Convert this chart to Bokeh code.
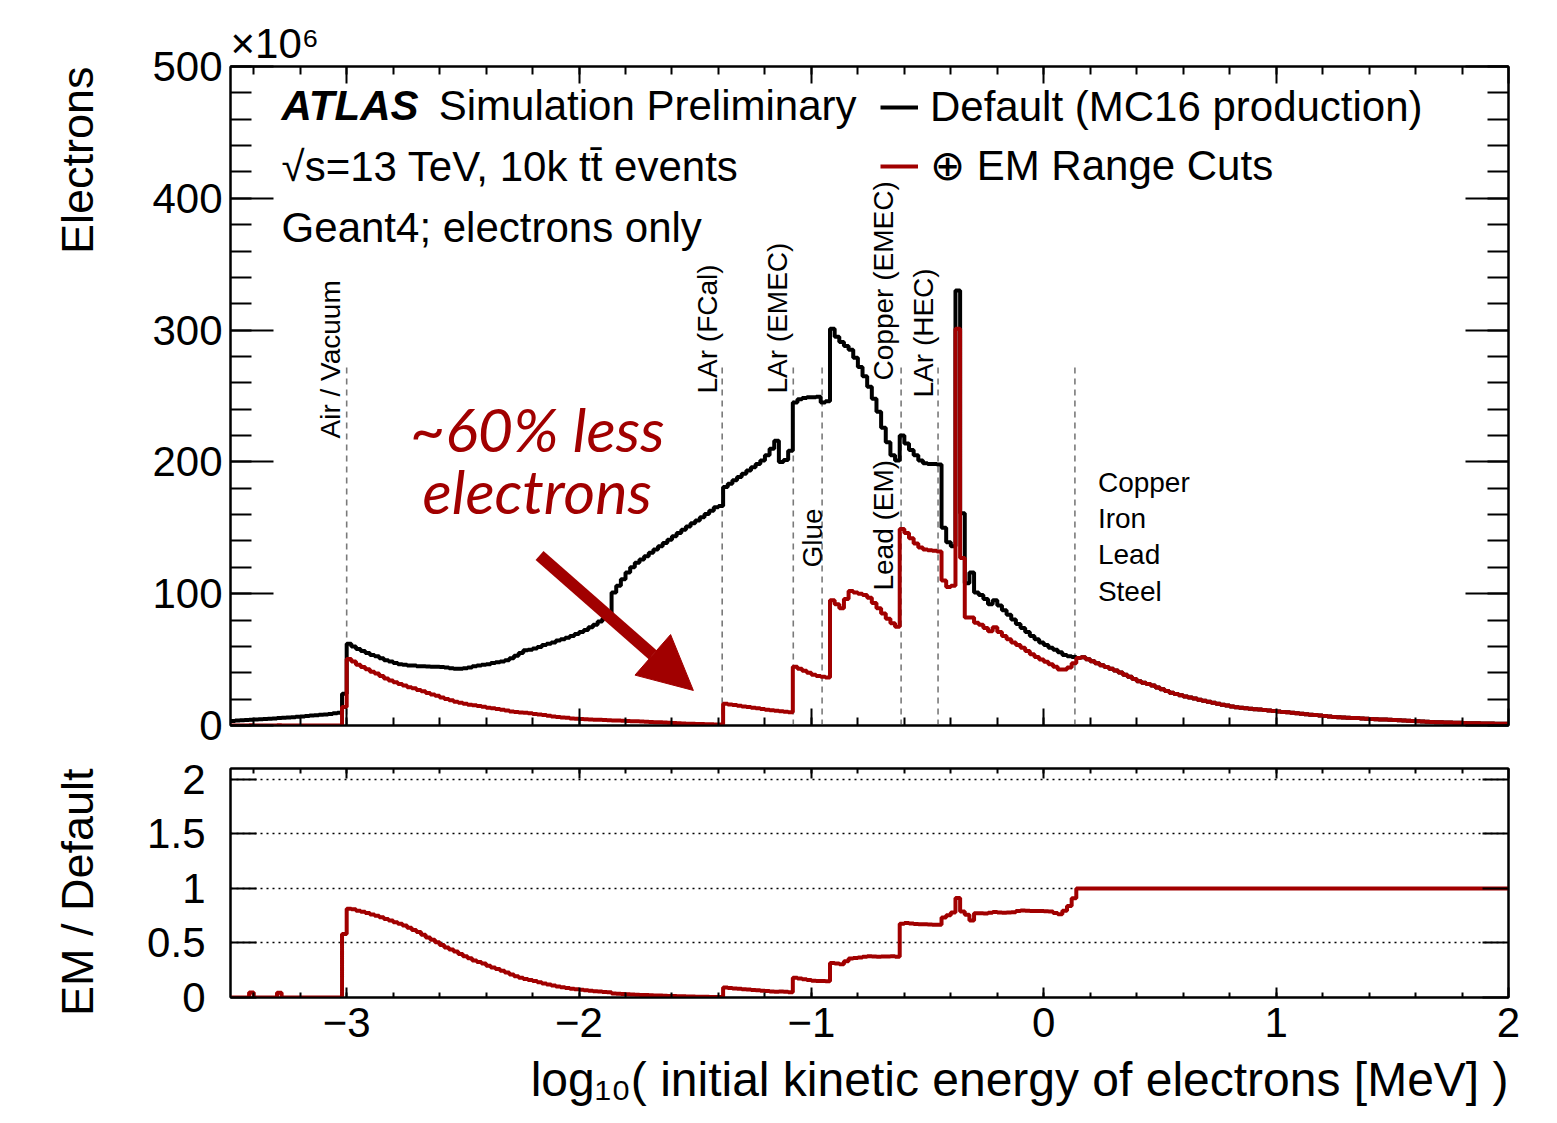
import numpy as np
from bokeh.plotting import figure
from bokeh.layouts import column
from bokeh.models import (FixedTicker, LinearAxis, Label, Arrow, NormalHead,
                          Legend, LegendItem, Range1d, Title)
from bokeh.embed import file_html
from bokeh.resources import INLINE

# ---------------------------------------------------------------------------
# Binning: log10(E_kin / MeV), 0.02 wide bins from -3.5 to 2.0
# ---------------------------------------------------------------------------
X_LO, X_HI, N_BINS = -3.5, 2.0, 275
edges = np.round(np.linspace(X_LO, X_HI, N_BINS + 1), 2)

# Electrons per bin [x10^6], default (MC16 production) physics list
default_vac = [3.5, 3.7, 3.9, 4.1, 4.3, 4.5, 4.7, 4.9, 5.1, 5.3,
               5.6, 5.8, 6.1, 6.3, 6.6, 6.9, 7.2, 7.5, 7.8, 8.1,
               8.4, 8.8, 9.2, 9.6, 24.0]
default_air = [62, 60, 58, 56.5, 55, 53.5, 52.5, 51, 49.5, 48.5,
               47.5, 46.5, 46, 45.5, 45.5, 45, 45, 44.8, 44.5, 44.5,
               44.3, 44, 43.5, 43, 43, 43.5, 44, 45, 45.5, 46,
               46.5, 47.5, 48, 48.5, 49.5, 51, 53, 55, 57, 57.5,
               58.5, 59.5, 61, 62, 63, 64.5, 65.5, 66.5, 68, 69.5,
               71, 72.5, 74.5, 76.5, 79, 81, 82, 101, 106, 111,
               116, 120, 123.5, 126, 128.5, 131, 133.5, 136, 138.5, 141,
               143.5, 146, 148.5, 151, 153.5, 155.5, 158, 160.5, 163, 165.5]
default_emec = [166.5, 181, 183.5, 186, 188.5, 191, 193.5, 196, 198.5, 201,
                205, 210, 216, 200, 201.5, 208.5, 245, 247.5, 248.5, 249,
                249, 249.5, 245]
default_calo = [246, 301, 295, 291, 288, 285, 279, 272, 265, 257,
                248, 238, 226, 215, 205, 201, 220, 214, 209, 205,
                201, 199, 198.5, 198.5, 198]
default_hec = [150, 139, 136, 330, 161, 108, 116, 101, 99, 96,
               92, 95, 91, 87.5, 84, 80.5, 77, 74, 71, 68,
               65.5, 63, 61, 59, 57.5, 55.6, 53.5, 52.5, 52]

# Electrons per bin [x10^6], with EM range cuts
emcut_vac = [0, 0, 0, 0, 0.2, 0, 0, 0, 0, 0,
             0.25, 0, 0, 0, 0, 0, 0, 0, 0, 0,
             0, 0, 0, 0, 14.0]
emcut_air = [50.5, 48.6, 46.1, 44.4, 42.6, 40.7, 39.4, 37.5, 35.6, 34.2,
             32.8, 31.4, 30.4, 29.1, 28.2, 27.0, 25.9, 24.6, 23.6, 22.5,
             21.3, 20.2, 19.1, 18.1, 17.2, 16.5, 15.8, 15.3, 14.8, 14.3,
             13.5, 13.1, 12.5, 11.9, 11.4, 10.7, 10.3, 9.9, 9.7, 9.2,
             8.8, 8.3, 7.9, 7.4, 6.9, 6.5, 6.1, 5.8, 5.4, 5.2,
             5.0, 4.8, 4.6, 4.4, 4.3, 4.1, 3.9, 3.8, 3.7, 3.6,
             3.5, 3.3, 3.2, 3.0, 2.9, 2.7, 2.5, 2.4, 2.2, 2.0,
             1.9, 1.7, 1.6, 1.4, 1.3, 1.2, 1.1, 1.0, 0.9, 0.8]
emcut_emec = [0.7, 16.5, 16, 15.5, 15, 14.5, 14, 13.5, 13, 12.5,
              12, 11.6, 11.2, 10.8, 10.4, 10, 44.5, 43, 41.5, 40,
              38.5, 37.5, 37]
emcut_calo = [36.5, 95, 92, 89, 96, 102, 101, 100, 99, 97,
              93, 89, 85, 81, 77.5, 75, 149, 146, 142, 138,
              135, 133.5, 133, 132.5, 132]
emcut_hec = [110, 105, 106, 301, 127, 82, 82, 78, 76.5, 74,
             71.5, 74.5, 71, 68, 65.5, 63, 61, 59, 56.5, 54,
             52, 50, 48.3, 46.5, 44.5, 42.5, 42.5, 44, 47.3]

# Above ~0.14 the range cuts no longer act: both setups agree
common_tail = [51.3, 51.8, 50.3, 48.8, 47.2, 45.8, 44.4, 43.0, 41.7, 40.3,
               38.6, 37.0, 35.3, 33.6, 32.5, 31.4, 30.3, 28.9, 27.5, 26.1,
               24.9, 23.9, 22.9, 22.0, 21.2, 20.4, 19.5, 18.8, 18.0, 17.3,
               16.5, 15.8, 15.1, 14.4, 13.9, 13.5, 13.1, 12.7, 12.4, 12.1,
               11.7, 11.4, 11.0, 10.7, 10.3, 10.0, 9.6, 9.3, 8.9, 8.6,
               8.2, 7.9, 7.6, 7.2, 6.9, 6.5, 6.3, 6.1, 5.9, 5.7,
               5.6, 5.4, 5.2, 5.0, 4.8, 4.6, 4.5, 4.3, 4.1, 3.9,
               3.8, 3.6, 3.4, 3.2, 3.1, 2.9, 2.7, 2.5, 2.4, 2.3,
               2.2, 2.1, 2.0, 1.9, 1.8, 1.7, 1.7, 1.6, 1.5, 1.5,
               1.4, 1.4, 1.3]

default = np.array(default_vac + default_air + default_emec + default_calo
                   + default_hec + common_tail, dtype=float)
emcut = np.array(emcut_vac + emcut_air + emcut_emec + emcut_calo
                 + emcut_hec + common_tail, dtype=float)
assert len(default) == N_BINS and len(emcut) == N_BINS
ratio = np.divide(emcut, default, out=np.zeros_like(default), where=default > 0)

# Material boundaries (log10 of the electron production threshold)
boundary_x = [-3.0, -1.384, -1.078, -0.954, -0.614, -0.455, 0.134]
boundary_top = 275

# Axis ticks
x_major = [-3, -2, -1, 0, 1, 2]
x_minor = [round(v, 1) for v in np.arange(-3.4, 2.0, 0.2)]
x_labels = {-3: "\u22123", -2: "\u22122", -1: "\u22121", 0: "0", 1: "1", 2: "2"}
y_major = [0, 100, 200, 300, 400, 500]
y_minor = list(range(0, 501, 20))
r_major = [0, 0.5, 1, 1.5, 2]
r_labels = {0: "0", 0.5: "0.5", 1: "1", 1.5: "1.5", 2: "2"}

RED = "#a10000"
FONT = "Liberation Sans"
W = 1557


def add_axis(fig, side, ticker, major_in, minor_in, label_size=None, standoff=6,
             overrides=None):
    ax = LinearAxis(ticker=ticker)
    ax.axis_line_color = "black"
    ax.axis_line_width = 2
    ax.major_tick_in = major_in
    ax.major_tick_out = 0
    ax.minor_tick_in = minor_in
    ax.minor_tick_out = 0
    ax.major_tick_line_width = 2
    ax.minor_tick_line_width = 2
    ax.major_tick_line_color = "black"
    ax.minor_tick_line_color = "black"
    if label_size is None:
        # tick marks only on this side
        ax.major_label_text_color = None
        ax.major_label_text_font_size = "1px"
        ax.major_label_standoff = 0
    else:
        ax.major_label_text_font = FONT
        ax.major_label_text_font_size = label_size
        ax.major_label_text_color = "black"
        ax.major_label_standoff = standoff
    if overrides:
        ax.major_label_overrides = overrides
    fig.add_layout(ax, side)
    return ax


def new_panel(height, y_range, border_top, border_bottom):
    fig = figure(width=W, height=height, x_range=Range1d(X_LO, X_HI), y_range=y_range,
                 output_backend="svg", toolbar_location=None,
                 x_axis_location=None, y_axis_location=None,
                 min_border_left=230, min_border_right=49,
                 min_border_top=border_top, min_border_bottom=border_bottom)
    fig.outline_line_color = "black"
    fig.outline_line_width = 2
    fig.background_fill_color = "white"
    fig.border_fill_color = "white"
    return fig


def txt(fig, x, y, text, size, **kw):
    kw.setdefault("text_font", FONT)
    kw.setdefault("text_color", "black")
    kw.setdefault("text_baseline", "middle")
    fig.add_layout(Label(x=x, y=y, text=text, text_font_size=size, **kw))


def side_title(fig, side, text, size, align, standoff, offset=0):
    fig.add_layout(Title(text=text, align=align, standoff=standoff, offset=offset,
                         text_font=FONT, text_font_size=size,
                         text_font_style="normal", text_color="black"), side)


# ---------------------------------------------------------------------------
# Upper panel: electron spectra
# ---------------------------------------------------------------------------
top = new_panel(750, Range1d(0, 500), 66, 25)
top.grid.visible = False

xt = FixedTicker(ticks=x_major, minor_ticks=x_minor)
yt = FixedTicker(ticks=y_major, minor_ticks=y_minor)
add_axis(top, "below", xt, 17, 8)
add_axis(top, "above", xt, 17, 8)
add_axis(top, "left", yt, 43, 21, label_size="42px", standoff=8)
add_axis(top, "right", yt, 43, 21)

side_title(top, "left", "Electrons", "45px", "right", 94)
side_title(top, "above", "\u00d710\u2076", "42px", "left", 0)

top.segment(x0=boundary_x, y0=[0] * len(boundary_x), x1=boundary_x,
            y1=[boundary_top] * len(boundary_x),
            line_color="#7a7a7a", line_width=1.6, line_dash="6 5")

r_def = top.step(x=edges, y=np.append(default, default[-1]), mode="after",
                 line_color="black", line_width=4)
r_em = top.step(x=edges, y=np.append(emcut, emcut[-1]), mode="after",
                line_color=RED, line_width=4)

legend = Legend(items=[LegendItem(label="Default (MC16 production)", renderers=[r_def]),
                       LegendItem(label="\u2295 EM Range Cuts", renderers=[r_em])],
                location=(650, 535), padding=0, margin=0, spacing=10,
                glyph_width=38, glyph_height=20, label_standoff=12,
                label_text_font=FONT, label_text_font_size="42px",
                label_text_color="black",
                background_fill_alpha=0, border_line_alpha=0)
top.add_layout(legend)

# Header text
txt(top, -3.28, 470.4, "ATLAS", "42px", text_font_style="bold italic")
txt(top, -2.604, 470.4, "Simulation Preliminary", "42px")
txt(top, -3.28, 424.1, "\u221as=13 TeV, 10k t\u0074\u0304 events", "42px")
txt(top, -3.28, 377.8, "Geant4; electrons only", "42px")

# Material labels along the boundaries
ANGLE = np.pi / 2
txt(top, -3.069, 217.8, "Air / Vacuum", "28px", angle=ANGLE)
txt(top, -1.446, 251.9, "LAr (FCal)", "28px", angle=ANGLE)
txt(top, -1.145, 251.9, "LAr (EMEC)", "28px", angle=ANGLE)
txt(top, -0.997, 119.9, "Glue", "28px", angle=ANGLE)
txt(top, -0.689, 102.4, "Lead (EM)", "28px", angle=ANGLE)
txt(top, -0.689, 261.8, "Copper (EMEC)", "28px", angle=ANGLE)
txt(top, -0.517, 248.9, "LAr (HEC)", "28px", angle=ANGLE)
for label, yv in zip(["Copper", "Iron", "Lead", "Steel"], [184.4, 157.1, 129.8, 101.7]):
    txt(top, 0.233, yv, label, "28px")

# Callout
txt(top, -2.18, 225.6, "~60% less", "61px", text_font="Lato",
    text_font_style="italic", text_color=RED, text_align="center")
txt(top, -2.18, 178.6, "electrons", "61px", text_font="Lato",
    text_font_style="italic", text_color=RED, text_align="center")
top.add_layout(Arrow(end=NormalHead(size=54, fill_color=RED, line_color=RED),
                     x_start=-2.17, y_start=129, x_end=-1.508, y_end=26.6,
                     line_color=RED, line_width=12))

# ---------------------------------------------------------------------------
# Lower panel: ratio EM range cuts / default
# ---------------------------------------------------------------------------
bot = new_panel(373, Range1d(0, 2.1), 18, 126)
bot.x_range = top.x_range
bot.xgrid.visible = False
bot.ygrid.ticker = FixedTicker(ticks=[0.5, 1, 1.5, 2])
bot.ygrid.grid_line_color = "black"
bot.ygrid.grid_line_width = 1.5
bot.ygrid.grid_line_dash = "2 4"

rt = FixedTicker(ticks=r_major, minor_ticks=[])
add_axis(bot, "below", xt, 10, 5, label_size="42px", standoff=10, overrides=x_labels)
add_axis(bot, "above", xt, 10, 5)
add_axis(bot, "left", rt, 26, 0, label_size="42px", standoff=25, overrides=r_labels)
add_axis(bot, "right", rt, 26, 0)

side_title(bot, "left", "EM / Default", "45px", "right", 84)
side_title(bot, "below", "log\u2081\u2080( initial kinetic energy of electrons [MeV] )",
           "48px", "right", 22)

bot.step(x=edges, y=np.append(ratio, ratio[-1]), mode="after",
         line_color=RED, line_width=4)

page = column(top, bot, spacing=0)
open("out.html", "w").write(file_html(page, INLINE))
